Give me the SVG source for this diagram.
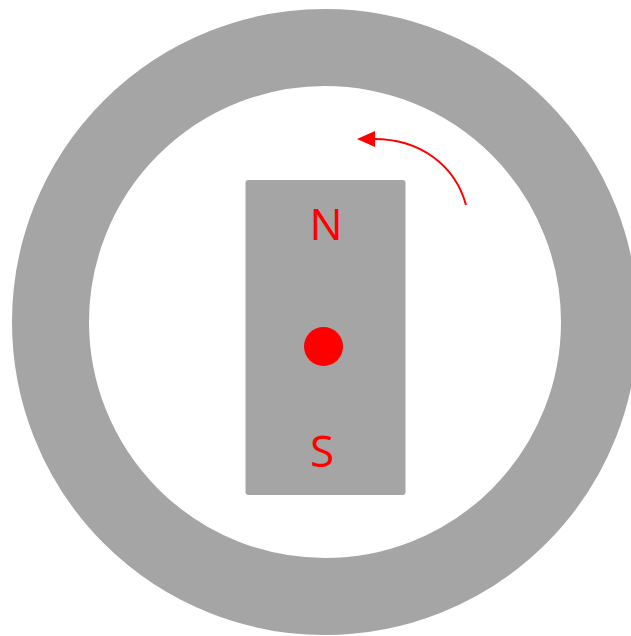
<svg xmlns="http://www.w3.org/2000/svg" width="631" height="636" viewBox="0 0 631 636">
<style>
.g{fill:#a5a5a5}
.t{font-family:"Open Sans","Noto Sans",sans-serif;font-size:44px;fill:#ff0000;text-anchor:middle}
</style>
<g id="ring">
<circle cx="325" cy="322" r="274.5" fill="none" stroke="#a5a5a5" stroke-width="77"/>
</g>
<g id="magnet">
<rect class="g" x="245.5" y="180" width="160" height="315" rx="3"/>
<text class="t" x="326" y="240">N</text>
<text class="t" x="322" y="467">S</text>
<circle cx="323.5" cy="346.5" r="19.5" fill="#ff0000"/>
</g>
<g id="connectors">
<path d="M466,205 C455,165 420,139 374,139" fill="none" stroke="#ff0000" stroke-width="2"/>
<path d="M357,139 L375,131 L375,147 Z" fill="#ff0000"/>
</g>
</svg>
